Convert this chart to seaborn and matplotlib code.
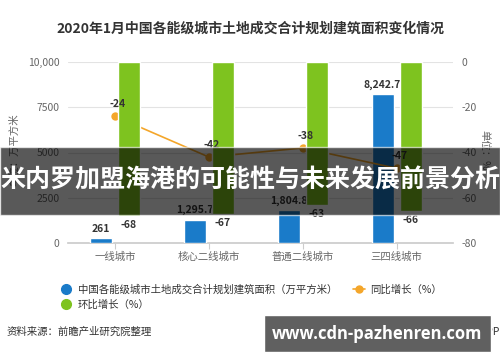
import numpy as np
import pandas as pd
import matplotlib
matplotlib.use("Agg")
import matplotlib.pyplot as plt
from matplotlib.lines import Line2D
from matplotlib.patches import Rectangle
import seaborn as sns

# --- data ---
cities = ["一线城市", "核心二线城市", "普通二线城市", "三四线城市"]
area = [261, 1295.7, 1804.8, 8242.7]          # 万平方米
yoy = [-24, -42, -38, -47]                    # 同比增长 %
mom = [-68, -67, -63, -66]                    # 环比增长 %
area_labels = ["261", "1,295.7", "1,804.8", "8,242.7"]
left_ticks = [0, 2500, 5000, 7500, 10000]
left_ticklabels = ["0", "2500", "5000", "7500", "10,000"]
right_ticks = [0, -20, -40, -60, -80]

BLUE = "#1a7bc9"
GREEN = "#7ec31f"
ORANGE = "#f4a62a"
TXT = "#333333"
GREY = "#666666"

S_AREA = "中国各能级城市土地成交合计规划建筑面积（万平方米）"
S_MOM = "环比增长（%）"
S_YOY = "同比增长（%）"

sns.set_theme(style="white")
plt.rcParams["font.family"] = ["Noto Sans CJK SC", "DejaVu Sans"]
plt.rcParams["axes.unicode_minus"] = False

fig = plt.figure(figsize=(5, 3.62), dpi=100)
ax = fig.add_axes([68 / 500, 1 - 243 / 362, (453 - 68) / 500, (243 - 62) / 362])
ax2 = ax.twinx()

df_area = pd.DataFrame({"city": cities, "value": area, "series": S_AREA})
df_mom = pd.DataFrame({"city": cities, "value": mom, "series": S_MOM})
order = [S_AREA, S_MOM]

sns.barplot(data=df_area, x="city", y="value", hue="series", hue_order=order,
            palette=[BLUE, GREEN], width=0.6, gap=0.22, dodge=True, saturation=1,
            legend=False, ax=ax)
# line first so the green bars cover it
sns.lineplot(x=np.arange(len(cities)), y=yoy, color=ORANGE, linewidth=1.2,
             marker="o", markersize=6, markeredgewidth=0, ax=ax2)
sns.barplot(data=df_mom, x="city", y="value", hue="series", hue_order=order,
            palette=[BLUE, GREEN], width=0.6, gap=0.22, dodge=True, saturation=1,
            legend=False, ax=ax2)
for p in ax.patches:
    p.set_zorder(3)
for p in ax2.patches:
    p.set_zorder(3)
for ln in ax2.lines:
    ln.set_zorder(2)

ax.set_ylim(0, 10000)
ax2.set_ylim(-80, 0)
ax.set_xlim(-0.5, 3.6)
ax.set_yticks(left_ticks)
ax.set_yticklabels(left_ticklabels)
ax2.set_yticks(right_ticks)
ax.set_xlabel("")
ax.set_ylabel("")
ax2.set_xlabel("")
ax2.set_ylabel("")
ax.grid(axis="y", color="#e3e3e3", linewidth=0.8)
ax.set_axisbelow(True)
for a in (ax, ax2):
    for s in a.spines.values():
        s.set_visible(False)
ax.spines["bottom"].set_visible(True)
ax.spines["bottom"].set_color("#cccccc")
ax.tick_params(axis="y", colors=GREY, labelsize=7.5, length=0, pad=6)
ax2.tick_params(axis="y", colors=GREY, labelsize=7.5, length=0, pad=6)
ax.tick_params(axis="x", colors="#cccccc", labelcolor=GREY, labelsize=7.5,
               length=4, width=0.8, bottom=True, pad=2)

# value labels
for i, (v, lab) in enumerate(zip(area, area_labels)):
    ax.annotate(lab, (i - 0.15, v), xytext=(0, 3), textcoords="offset points",
                ha="center", va="bottom", fontsize=7.5, color=TXT, fontweight="bold")
for i, v in enumerate(mom):
    ax2.annotate(f"{v}", (i + 0.15, v), xytext=(0, -3), textcoords="offset points",
                 ha="center", va="top", fontsize=7.5, color=TXT, fontweight="bold")
for i, v in enumerate(yoy):
    ax2.annotate(f"{v}", (i, v), xytext=(2, 5), textcoords="offset points",
                 ha="center", va="bottom", fontsize=7.5, color=TXT, fontweight="bold")

fig.text(250 / 500, 1 - 29 / 362,
         "2020年1月中国各能级城市土地成交合计规划建筑面积变化情况",
         ha="center", va="center", fontsize=10, fontweight="bold", color=TXT)
fig.text(14 / 500, 1 - 150 / 362, "单位：万平方米", rotation=90,
         ha="center", va="center", fontsize=7.5, color=GREY)
fig.text(484 / 500, 1 - 150 / 362, "单位：%", rotation=270,
         ha="center", va="center", fontsize=7.5, color=GREY)

handles = [
    Line2D([], [], marker="o", linestyle="none", color=BLUE, markersize=7),
    Line2D([], [], marker="o", linestyle="none", color=GREEN, markersize=7),
    Line2D([], [], marker="o", color=ORANGE, markersize=5, linewidth=1.2),
]
fig.legend(handles, [S_AREA, S_MOM, S_YOY], ncol=2, frameon=False,
           loc="upper left", bbox_to_anchor=(56 / 500, 1 - 280 / 362),
           fontsize=7.5, labelcolor=TXT, handlelength=1.2, handletextpad=0.5,
           columnspacing=1.5, labelspacing=0.45, borderaxespad=0)

fig.text(7 / 500, 1 - 332 / 362, "资料来源：前瞻产业研究院整理",
         ha="left", va="center", fontsize=7.5, color=TXT)
fig.text(500 / 500, 1 - 332 / 362, "©前瞻经济学人APP",
         ha="right", va="center", fontsize=7.5, color=TXT)

# overlay banner across the middle
fig.patches.append(Rectangle((0, 1 - 215 / 362), 1, 68 / 362, transform=fig.transFigure,
                             facecolor="black", alpha=0.65, zorder=10))
fig.text(250 / 500, 1 - 181 / 362, "米内罗加盟海港的可能性与未来发展前景分析",
         ha="center", va="center", fontsize=18, fontweight="bold", color="white", zorder=11)

# watermark box
fig.patches.append(Rectangle((264 / 500, 1 - 352 / 362), 227 / 500, 37 / 362,
                             transform=fig.transFigure, facecolor="#606060", zorder=10))
fig.text(377 / 500, 1 - 334 / 362, "www.cdn-pazhenren.com", ha="center", va="center",
         fontsize=12, fontweight="bold", color="white", family="Open Sans", zorder=11)

fig.savefig("out.png", dpi=100)
